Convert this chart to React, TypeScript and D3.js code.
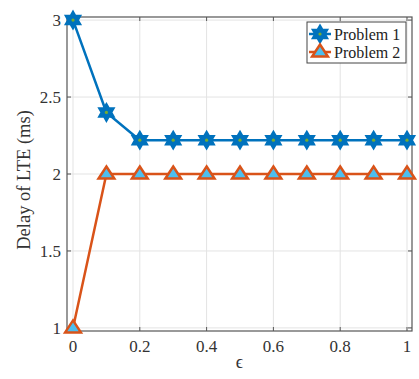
import { useEffect, useRef } from 'react';
import * as d3 from 'd3';

const WIDTH = 419;
const HEIGHT = 379;
const MARGIN = { top: 17, right: 7, bottom: 48, left: 67 };

const epsilon = [0, 0.1, 0.2, 0.3, 0.4, 0.5, 0.6, 0.7, 0.8, 0.9, 1];
const problem1 = [3, 2.4, 2.22, 2.22, 2.22, 2.22, 2.22, 2.22, 2.22, 2.22, 2.22];
const problem2 = [1, 2, 2, 2, 2, 2, 2, 2, 2, 2, 2];
const xTicks = [0, 0.2, 0.4, 0.6, 0.8, 1];
const yTicks = [1, 1.5, 2, 2.5, 3];
const seriesNames = ['Problem 1', 'Problem 2'];

const BLUE = '#0072BD';
const ORANGE = '#D95319';
const FONT = "'Liberation Serif', 'Times New Roman', serif";

// six-pointed star path centred at 0,0
function hexagram(r: number) {
  const pts: [number, number][] = [];
  for (let i = 0; i < 12; i++) {
    const a = (Math.PI / 6) * i - Math.PI / 2;
    const rr = i % 2 === 0 ? r : r * 0.58;
    pts.push([Math.cos(a) * rr, Math.sin(a) * rr]);
  }
  return d3.line()(pts) + 'Z';
}

function triangle(r: number) {
  const pts: [number, number][] = [[0, -r], [r * 1.05, r * 0.6], [-r * 1.05, r * 0.6]];
  return d3.line()(pts) + 'Z';
}

function App() {
  const svgRef = useRef(null);

  useEffect(() => {
    const svg = d3.select(svgRef.current);
    svg.selectAll('*').remove();

    const x = d3.scaleLinear()
      .domain([-0.018, 1.015])
      .range([MARGIN.left, WIDTH - MARGIN.right]);
    const y = d3.scaleLinear()
      .domain([0.98, 3.02])
      .range([HEIGHT - MARGIN.bottom, MARGIN.top]);

    const [x0, x1] = x.range();
    const [y0, y1] = y.range();

    // grid
    const grid = svg.append('g').attr('stroke', '#e3e3e3').attr('stroke-width', 1);
    grid.selectAll('.gx').data(xTicks).join('line')
      .attr('x1', (d) => x(d)).attr('x2', (d) => x(d))
      .attr('y1', y0).attr('y2', y1);
    grid.selectAll('.gy').data(yTicks).join('line')
      .attr('y1', (d) => y(d)).attr('y2', (d) => y(d))
      .attr('x1', x0).attr('x2', x1);

    // box + inner ticks
    const axisColor = '#555';
    svg.append('rect')
      .attr('x', x0).attr('y', y1)
      .attr('width', x1 - x0).attr('height', y0 - y1)
      .attr('fill', 'none').attr('stroke', axisColor).attr('stroke-width', 1.2);

    const ticks = svg.append('g').attr('stroke', axisColor).attr('stroke-width', 1);
    xTicks.forEach((t) => {
      ticks.append('line').attr('x1', x(t)).attr('x2', x(t)).attr('y1', y0).attr('y2', y0 - 4);
      ticks.append('line').attr('x1', x(t)).attr('x2', x(t)).attr('y1', y1).attr('y2', y1 + 4);
    });
    yTicks.forEach((t) => {
      ticks.append('line').attr('y1', y(t)).attr('y2', y(t)).attr('x1', x0).attr('x2', x0 + 4);
      ticks.append('line').attr('y1', y(t)).attr('y2', y(t)).attr('x1', x1).attr('x2', x1 - 4);
    });

    svg.append('g').selectAll('text').data(xTicks).join('text')
      .attr('x', (d) => x(d)).attr('y', y0 + 21)
      .attr('text-anchor', 'middle')
      .style('font-family', FONT).style('font-size', '17px').attr('fill', '#333')
      .text((d) => d3.format('~g')(d));

    svg.append('g').selectAll('text').data(yTicks).join('text')
      .attr('x', x0 - 6).attr('y', (d) => y(d)).attr('dy', '0.35em')
      .attr('text-anchor', 'end')
      .style('font-family', FONT).style('font-size', '17px').attr('fill', '#333')
      .text((d) => d3.format('~g')(d));

    svg.append('text')
      .attr('x', (x0 + x1) / 2).attr('y', HEIGHT - 11)
      .attr('text-anchor', 'middle')
      .style('font-family', FONT).style('font-size', '18px').attr('fill', '#333')
      .text('ϵ');

    svg.append('text')
      .attr('transform', `translate(30,${(y0 + y1) / 2 + 6}) rotate(-90)`)
      .attr('text-anchor', 'middle')
      .style('font-family', FONT).style('font-size', '18.5px').attr('fill', '#333')
      .text('Delay of LTE (ms)');

    const line = d3.line<number>()
      .x((_, i) => x(epsilon[i]))
      .y((d) => y(d));

    const drawSeries = (vals: number[], color: string, marker: string, face: string, dot: boolean) => {
      svg.append('path').datum(vals)
        .attr('d', line)
        .attr('fill', 'none').attr('stroke', color).attr('stroke-width', 2.5);
      const g = svg.append('g').selectAll('g').data(vals).join('g')
        .attr('transform', (d, i) => `translate(${x(epsilon[i])},${y(d)})`);
      g.append('path')
        .attr('d', marker)
        .attr('fill', dot ? color : face).attr('stroke', color).attr('stroke-width', 2.5);
      if (dot) g.append('circle').attr('r', 1.6).attr('fill', '#77AC30');
    };

    drawSeries(problem2, ORANGE, triangle(7.5), '#4DBEEE', false);
    drawSeries(problem1, BLUE, hexagram(8), '#77AC30', true);

    // legend
    const lg = svg.append('g').attr('transform', `translate(${x1 - 105},${y1 + 5})`);
    lg.append('rect').attr('width', 99).attr('height', 41)
      .attr('fill', '#fff').attr('stroke', '#444').attr('stroke-width', 1);
    const legendItems = [
      { name: seriesNames[0], color: BLUE, marker: hexagram(8), dot: true },
      { name: seriesNames[1], color: ORANGE, marker: triangle(7.5), dot: false },
    ];
    legendItems.forEach((it, i) => {
      const cy = 12 + i * 18;
      lg.append('line').attr('x1', 2).attr('x2', 24).attr('y1', cy).attr('y2', cy)
        .attr('stroke', it.color).attr('stroke-width', 2.5);
      lg.append('path').attr('transform', `translate(13,${cy})`).attr('d', it.marker)
        .attr('fill', it.dot ? it.color : '#4DBEEE').attr('stroke', it.color).attr('stroke-width', 2.5);
      if (it.dot) lg.append('circle').attr('cx', 13).attr('cy', cy).attr('r', 1.6).attr('fill', '#77AC30');
      lg.append('text').attr('x', 27).attr('y', cy).attr('dy', '0.35em')
        .style('font-family', FONT).style('font-size', '16px').attr('fill', '#222')
        .text(it.name);
    });
  }, []);

  return (
    <svg
      ref={svgRef}
      width={WIDTH}
      height={HEIGHT}
      style={{ position: 'absolute', left: 0, top: 0, background: '#fff' }}
    />
  );
}

export default App;
